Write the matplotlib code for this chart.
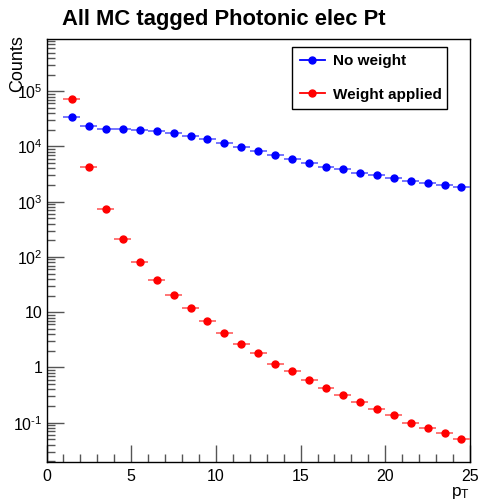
import matplotlib
matplotlib.use("Agg")
import matplotlib.pyplot as plt
from matplotlib.lines import Line2D
from matplotlib.ticker import FixedLocator, FixedFormatter, LogLocator, NullFormatter, MultipleLocator

plt.rcParams['font.family'] = ['Liberation Sans', 'DejaVu Sans']
plt.rcParams['mathtext.fontset'] = 'custom'
plt.rcParams['mathtext.rm'] = 'Liberation Sans'
plt.rcParams['mathtext.it'] = 'Liberation Sans'
plt.rcParams['axes.unicode_minus'] = False

# pT bin centres (bin width 1)
pt = [1.5, 2.5, 3.5, 4.5, 5.5, 6.5, 7.5, 8.5, 9.5, 10.5, 11.5, 12.5,
      13.5, 14.5, 15.5, 16.5, 17.5, 18.5, 19.5, 20.5, 21.5, 22.5, 23.5, 24.5]
no_weight = [34000, 23400, 21000, 20400, 19800, 19000, 17500, 15400, 13400, 11500,
             9650, 8150, 7120, 5920, 5010, 4240, 3850, 3360, 3000, 2730,
             2370, 2180, 2000, 1850]
weighted = [73000, 4190, 730, 212, 81.5, 39, 20.9, 11.7, 6.97, 4.23,
            2.68, 1.84, 1.16, 0.85, 0.59, 0.417, 0.312, 0.233, 0.179, 0.139,
            0.100, 0.080, 0.065, 0.051]
bin_half = 0.5

ytick_vals = [0.1, 1, 10, 100, 1e3, 1e4, 1e5]
ytick_labels = ['$10^{\\text{-}1}$', '1', '10', '$10^{2}$', '$10^{3}$', '$10^{4}$', '$10^{5}$']

fig = plt.figure(figsize=(4.8, 5.03), dpi=100)
ax = fig.add_axes([0.097, 0.0815, 0.882, 0.8405])

for vals, col, errcol in [(no_weight, 'blue', '#6a6aff'), (weighted, 'red', '#ff6a6a')]:
    ax.errorbar(pt, vals, xerr=bin_half, fmt='o', color=col, ecolor=errcol,
                markersize=5, elinewidth=1.3, capsize=0, zorder=3)

ax.set_yscale('log')
ax.set_xlim(0, 25)
ax.set_ylim(0.0195, 8.7e5)

ax.yaxis.set_major_locator(FixedLocator(ytick_vals))
ax.yaxis.set_major_formatter(FixedFormatter(ytick_labels))
ax.yaxis.set_minor_locator(LogLocator(base=10, subs=range(2, 10), numticks=20))
ax.yaxis.set_minor_formatter(NullFormatter())
ax.xaxis.set_major_locator(MultipleLocator(5))
ax.xaxis.set_minor_locator(MultipleLocator(1))

ax.tick_params(which='both', direction='in', labelsize=11.5, color='#555555')
ax.tick_params(which='major', length=12, width=1)
ax.tick_params(which='minor', length=6, width=1)
ax.tick_params(axis='x', pad=5)
ax.tick_params(axis='y', pad=3)
for s in ax.spines.values():
    s.set_linewidth(1)
    s.set_color('black')

ax.text(-0.068, 1.01, 'Counts', transform=ax.transAxes, rotation=90,
        ha='center', va='top', fontsize=13)
ax.text(1.0, -0.055, r'$\mathrm{p}_{\mathrm{T}}$', transform=ax.transAxes,
        ha='right', va='top', fontsize=12.5)

fig.text(0.13, 0.962, 'All MC tagged Photonic elec Pt', fontsize=15.8,
         fontweight='bold', ha='left', va='center')

handles = [Line2D([], [], color='blue', marker='o', markersize=5, lw=1.3),
           Line2D([], [], color='red', marker='o', markersize=5, lw=1.3)]
leg = ax.legend(handles, ['No weight', 'Weight applied'],
                loc='upper left', bbox_to_anchor=(0.58, 0.832, 0.366, 0.15),
                mode='expand', fancybox=False, framealpha=1, edgecolor='black',
                prop={'weight': 'bold', 'size': 11}, handlelength=1.65,
                handletextpad=0.5, labelspacing=1.25, borderpad=0.5, borderaxespad=0)
leg.get_frame().set_linewidth(1)

fig.savefig('out.png', dpi=100)
